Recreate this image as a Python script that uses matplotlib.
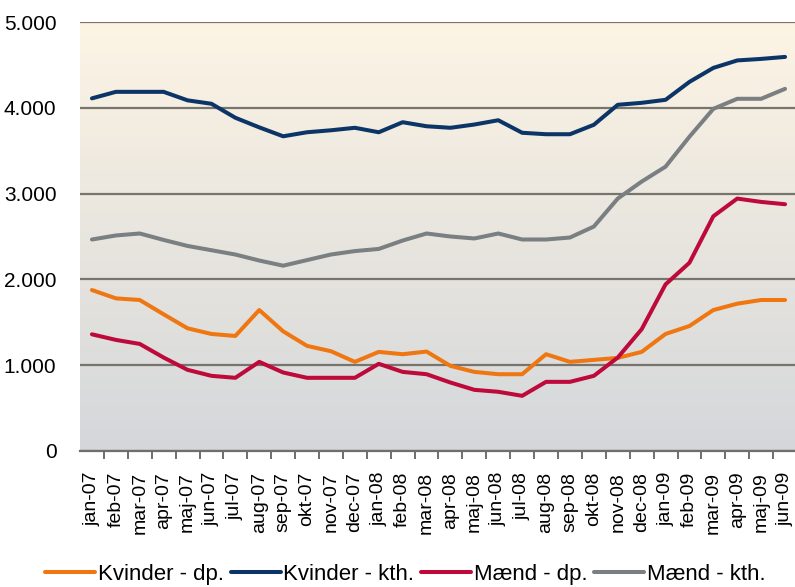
import matplotlib
matplotlib.use('Agg')
import matplotlib.pyplot as plt
import numpy as np
from matplotlib.ticker import FuncFormatter

# Måneder jan-07 .. jun-09
maaneder = ["jan-07", "feb-07", "mar-07", "apr-07", "maj-07", "jun-07", "jul-07",
            "aug-07", "sep-07", "okt-07", "nov-07", "dec-07", "jan-08", "feb-08",
            "mar-08", "apr-08", "maj-08", "jun-08", "jul-08", "aug-08", "sep-08",
            "okt-08", "nov-08", "dec-08", "jan-09", "feb-09", "mar-09", "apr-09",
            "maj-09", "jun-09"]

kvinder_dp = [1876, 1779, 1760, 1593, 1430, 1364, 1341, 1643, 1395, 1225, 1163, 1039,
              1155, 1128, 1159, 992, 922, 895, 895, 1128, 1039, 1062, 1085, 1155,
              1364, 1457, 1643, 1717, 1760, 1760]
kvinder_kth = [4110, 4186, 4186, 4186, 4087, 4047, 3884, 3772, 3668, 3715, 3738, 3767,
               3715, 3832, 3785, 3767, 3805, 3855, 3709, 3692, 3692, 3802, 4035, 4058,
               4093, 4302, 4465, 4552, 4570, 4593]
maend_dp = [1360, 1295, 1248, 1089, 946, 876, 853, 1039, 915, 853, 853, 853,
            1016, 922, 895, 798, 713, 690, 643, 806, 806, 876, 1089, 1419,
            1942, 2194, 2736, 2942, 2903, 2876]
maend_kth = [2465, 2512, 2535, 2460, 2390, 2340, 2290, 2220, 2160, 2225, 2290, 2330,
             2355, 2453, 2535, 2500, 2477, 2535, 2465, 2465, 2488, 2616, 2942, 3140,
             3314, 3663, 3988, 4105, 4105, 4221]

serier = [
    ("Kvinder - dp.", kvinder_dp, "#ef7711"),
    ("Kvinder - kth.", kvinder_kth, "#0c3567"),
    ("Mænd - dp.", maend_dp, "#bd0a3b"),
    ("Mænd - kth.", maend_kth, "#7a7f82"),
]

plt.rcParams['font.family'] = ['Liberation Sans', 'DejaVu Sans']

fig = plt.figure(figsize=(7.95, 5.87), dpi=100)
rect = [80 / 795, (587 - 451) / 587, 717 / 795, 429 / 587]

# Baggrund med farveforløb (creme -> grå) i sin egen akse bag plottet
bg = fig.add_axes(rect, zorder=0)
top = np.array([253, 244, 228]) / 255
bund = np.array([212, 215, 218]) / 255
t = np.linspace(0, 1, 256)[:, None]
grad = top * (1 - t) + bund * t
grad = np.repeat(grad[:, None, :], 8, axis=1)
bg.imshow(grad, extent=[0, 1, 0, 1], aspect='auto', interpolation='bilinear')
bg.axis('off')

ax = fig.add_axes(rect, zorder=1)
ax.patch.set_visible(False)

x = np.arange(len(maaneder))
for navn, vaerdier, farve in serier:
    ax.plot(x, vaerdier, color=farve, lw=2.9, label=navn, zorder=3,
            solid_capstyle='round', solid_joinstyle='round')

ax.set_xlim(-0.5, len(maaneder) - 0.5)
ax.set_ylim(0, 5000)
ax.set_yticks(range(0, 5001, 1000))
ax.yaxis.set_major_formatter(FuncFormatter(lambda v, p: f"{int(v):,}".replace(",", ".")))
ax.grid(axis='y', color='#77736d', lw=1.6, zorder=1)
ax.tick_params(axis='y', length=0, pad=17, labelsize=15)

# Tick-streger mellem kategorier (major), labels på midten (minor)
ax.set_xticks(np.arange(0.5, len(maaneder) - 1))
ax.set_xticklabels([])
ax.set_xticks(x, minor=True)
ax.set_xticklabels(maaneder, minor=True, rotation=90, fontsize=14)
ax.tick_params(axis='x', which='minor', length=0, pad=15)
ax.tick_params(axis='x', which='major', length=6, width=1.2, color='#555555',
               direction='out')

for s in ['top', 'right', 'left']:
    ax.spines[s].set_visible(False)
ax.spines['bottom'].set_color('#6e6e6e')
ax.spines['bottom'].set_linewidth(1.6)

fig.legend(loc='lower center', bbox_to_anchor=(0.51, -0.03), ncol=4, frameon=False,
           fontsize=16, handlelength=2.25, handletextpad=0.12, columnspacing=0.3)

fig.savefig("out.png", dpi=100)
